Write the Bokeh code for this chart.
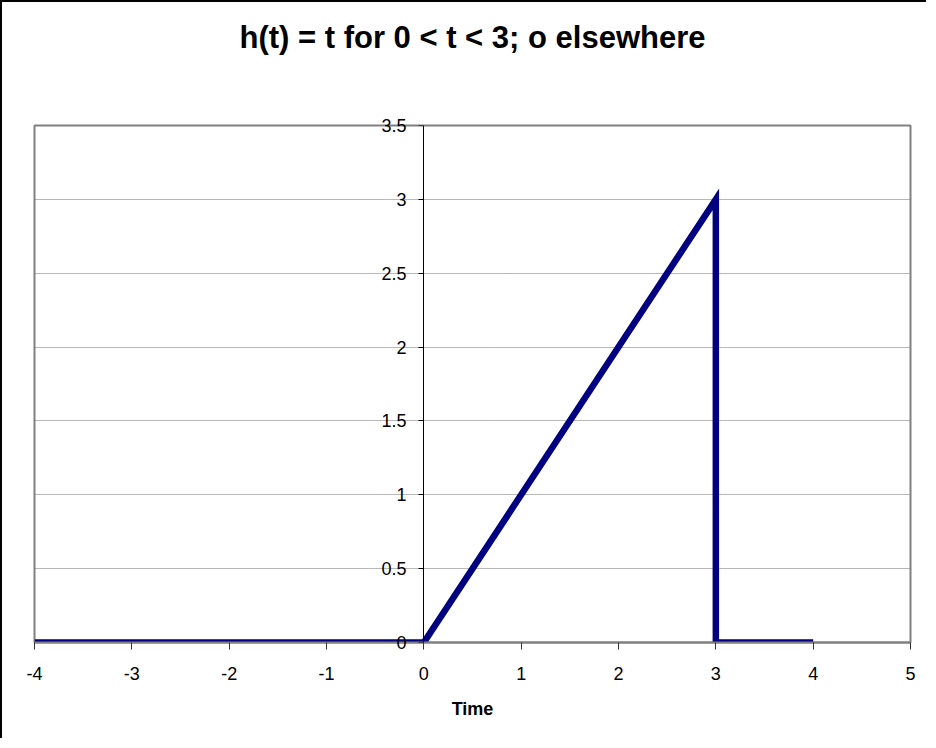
from bokeh.plotting import figure
from bokeh.models import LinearAxis, FixedTicker, Range1d, Title
from bokeh.embed import file_html
from bokeh.resources import INLINE

# Data: h(t) = t for 0 < t < 3; 0 elsewhere (key points of the plotted series)
t_vals = [-4, -3, -2, -1, 0, 1, 2, 3, 3, 4]
h_vals = [0, 0, 0, 0, 0, 1, 2, 3, 0, 0]
x_ticks = [-4, -3, -2, -1, 0, 1, 2, 3, 4, 5]
y_ticks = [0, 0.5, 1, 1.5, 2, 2.5, 3, 3.5]
y_tick_labels = ["0", "0.5", "1", "1.5", "2", "2.5", "3", "3.5"]
title_text = "h(t) = t for 0 < t < 3; o elsewhere"
x_label = "Time"

FONT = "Liberation Sans"

p = figure(width=926, height=738, output_backend="svg", toolbar_location=None,
           x_range=Range1d(-4, 5), y_range=Range1d(0, 3.5),
           y_axis_location="left", x_axis_location="below",
           min_border_left=32, min_border_right=18,
           min_border_top=123, min_border_bottom=98)
p.title = None

p.styles = {"border-left": "2px solid black", "border-top": "2px solid black"}
p.background_fill_color = "white"
p.border_fill_color = "white"
p.outline_line_color = "#808080"
p.outline_line_width = 2

# Titles in the top panel: a spacer next to the plot area, then the chart title
spacer = Title(text=" ", text_font_size="1px", standoff=63)
main_title = Title(text=title_text, align="center", standoff=10,
                   text_font=FONT, text_font_size="31px", text_font_style="bold",
                   text_color="black")
p.add_layout(spacer, "above")
p.add_layout(main_title, "above")

# X axis
xa = p.xaxis[0]
xa.ticker = FixedTicker(ticks=x_ticks)
xa.major_label_overrides = {v: str(v) for v in x_ticks}
xa.axis_line_color = "#808080"
xa.axis_line_width = 2
xa.major_tick_line_color = "#333333"
xa.major_tick_in = 0
xa.major_tick_out = 7
xa.minor_tick_line_color = None
xa.major_label_text_font = FONT
xa.major_label_text_font_size = "18px"
xa.major_label_text_color = "black"
xa.major_label_standoff = 17
xa.axis_label = x_label
xa.axis_label_text_font = FONT
xa.axis_label_text_font_size = "18px"
xa.axis_label_text_font_style = "bold"
xa.axis_label_text_color = "black"
xa.axis_label_standoff = 16

# Y tick labels: left axis whose labels are pushed right, next to t = 0
yl = p.yaxis[0]
yl.ticker = FixedTicker(ticks=y_ticks)
yl.major_label_overrides = dict(zip(y_ticks, y_tick_labels))
yl.axis_line_color = None
yl.major_tick_line_color = None
yl.minor_tick_line_color = None
yl.major_tick_in = 0
yl.major_tick_out = 0
yl.major_label_text_font = FONT
yl.major_label_text_font_size = "18px"
yl.major_label_text_color = "black"
yl.major_label_standoff = -372

# Y axis line and ticks crossing at t = 0
ya = LinearAxis(fixed_location=0, ticker=FixedTicker(ticks=y_ticks))
ya.major_label_overrides = {v: "" for v in y_ticks}
ya.axis_line_color = "black"
ya.axis_line_width = 1
ya.major_tick_line_color = "black"
ya.major_tick_in = 0
ya.major_tick_out = 5
ya.minor_tick_line_color = None
ya.major_label_standoff = 0
p.add_layout(ya, "left")

p.xgrid.grid_line_color = None
p.ygrid.ticker = FixedTicker(ticks=y_ticks)
p.ygrid.grid_line_color = "#707070"
p.ygrid.grid_line_dash = "1 1"
p.ygrid.grid_line_width = 1

p.line(t_vals, h_vals, line_color="#000080", line_width=6.5, line_join="miter")

open("out.html", "w").write(file_html(p, INLINE))
